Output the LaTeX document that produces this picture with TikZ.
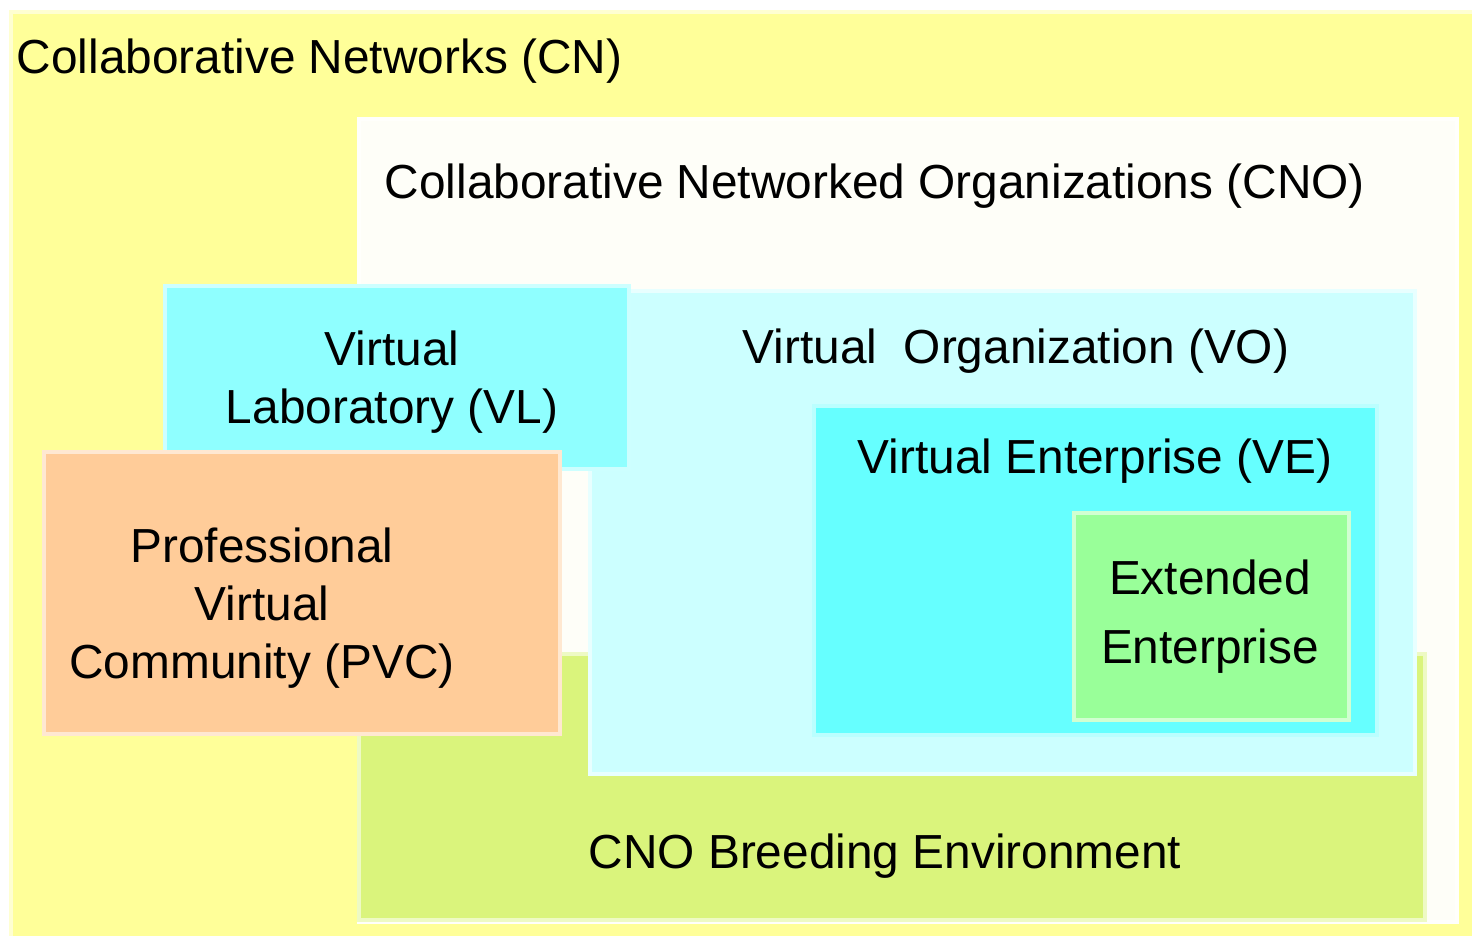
\documentclass[tikz,border=0pt]{standalone}
\usepackage{xcolor}
\usepackage{fontspec}
\setmainfont{Liberation Sans}
\usepackage{tikz}
\definecolor{cnyellow}{HTML}{FFFF99}
\definecolor{cnowhite}{HTML}{FEFEF8}
\definecolor{begreen}{HTML}{DAF47C}
\definecolor{vocyan}{HTML}{CCFFFF}
\definecolor{vlcyan}{HTML}{8FFFFF}
\definecolor{pvcorange}{HTML}{FFCC99}
\definecolor{vecyan}{HTML}{66FFFF}
\definecolor{eegreen}{HTML}{99FF99}
\tikzset{box/.style = {rectangle, anchor=north west, inner sep=0pt, fill=#1, draw=#1!45!white, line width=1pt}}
\tikzset{lbl/.style = {font=\fontsize{13.6}{16.4}\selectfont, inner sep=0pt, align=center}}

\begin{document}
\begin{tikzpicture}
\useasboundingbox [fill=white] (0, 0) rectangle (14.72, -9.35);
\node [box=cnyellow, minimum width=14.70cm, minimum height=9.30cm] (CN) at (0.09, -0.10) {};
\node [box=cnowhite, minimum width=10.98cm, minimum height=8.03cm] (CNO) at (3.57, -1.17) {};
\node [box=begreen, minimum width=10.66cm, minimum height=2.66cm] (BE) at (3.57, -6.52) {};
\node [box=vocyan, minimum width=8.25cm, minimum height=4.83cm] (VO) at (5.88, -2.89) {};
\node [box=vlcyan, minimum width=4.64cm, minimum height=1.83cm] (VL) at (1.63, -2.84) {};
\node [box=pvcorange, minimum width=5.16cm, minimum height=2.82cm] (PVC) at (0.42, -4.50) {};
\node [box=vecyan, minimum width=5.63cm, minimum height=3.29cm] (VE) at (8.12, -4.04) {};
\node [box=eegreen, minimum width=2.75cm, minimum height=2.07cm] (EE) at (10.72, -5.11) {};
\node [lbl, anchor=west] (CNtext) at (0.16, -0.61) {Collaborative Networks (CN)};
\node [lbl, anchor=west] (CNOtext) at (3.84, -1.86) {Collaborative Networked Organizations (CNO)};
\node [lbl, anchor=west] (VOtext) at (7.42, -3.51) {Virtual\ \ Organization (VO)};
\node [lbl] (VLtext) at (3.92, -3.82) {Virtual\\Laboratory (VL)};
\node [lbl] (PVCtext) at (2.62, -6.08) {Professional\\Virtual\\Community (PVC)};
\node [lbl, anchor=west] (VEtext) at (8.57, -4.61) {Virtual Enterprise (VE)};
\node [lbl, font=\fontsize{13.6}{19.6}\selectfont] (EEtext) at (12.10, -6.165) {Extended\\Enterprise};
\node [lbl, anchor=west] (BEtext) at (5.88, -8.56) {CNO Breeding Environment};
\end{tikzpicture}
\end{document}
